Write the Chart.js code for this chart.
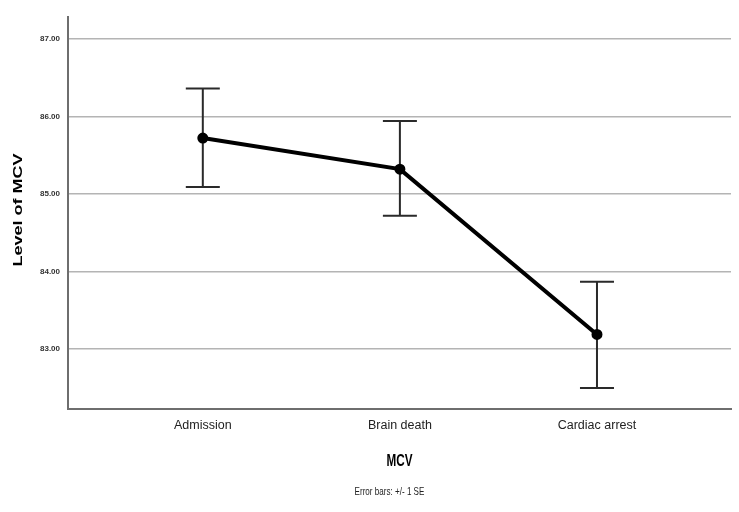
<!DOCTYPE html>
<html>
<head>
<meta charset="utf-8">
<script src="https://cdn.jsdelivr.net/npm/chart.js@4.4.0/dist/chart.umd.min.js"></script>
<style>
  html, body { margin: 0; padding: 0; background: #fff; }
  #grafico { display: block; }
</style>
</head>
<body>
<canvas id="grafico" width="739" height="512"></canvas>
<script>
// dados (media +/- 1 SE)
var categorias = ["Admission", "Brain death", "Cardiac arrest"];
var medias = [85.72, 85.32, 83.19];
var limiteSup = [86.36, 85.94, 83.87];
var limiteInf = [85.09, 84.72, 82.50];
var ticksY = [83, 84, 85, 86, 87];

var tituloY = "Level of MCV";
var tituloX = "MCV";
var rodape = "Error bars: +/- 1 SE";

var pontos = medias.map(function (m, i) {
	return { x: i, y: m };
});

// barras de erro desenhadas com as escalas do proprio grafico
var barrasErro = {
	id: "barrasErro",
	beforeDatasetsDraw: function (chart) {
		var ctx = chart.ctx;
		var sx = chart.scales.x;
		var sy = chart.scales.y;
		ctx.save();
		ctx.strokeStyle = "#2a2a2a";
		ctx.lineWidth = 2;
		for (var i = 0; i < medias.length; i++) {
			var px = sx.getPixelForValue(i);
			var yS = sy.getPixelForValue(limiteSup[i]);
			var yI = sy.getPixelForValue(limiteInf[i]);
			ctx.beginPath();
			ctx.moveTo(px, yS);
			ctx.lineTo(px, yI);
			ctx.moveTo(px - 17, yS);
			ctx.lineTo(px + 17, yS);
			ctx.moveTo(px - 17, yI);
			ctx.lineTo(px + 17, yI);
			ctx.stroke();
		}
		ctx.restore();
	},
	afterDraw: function (chart) {
		var ctx = chart.ctx;
		var area = chart.chartArea;
		ctx.save();
		ctx.fillStyle = "#000";
		ctx.textAlign = "center";
		ctx.textBaseline = "middle";

		// titulo do eixo y (esticado como no original)
		ctx.save();
		ctx.translate(19, (area.top + area.bottom) / 2 - 3);
		ctx.rotate(-Math.PI / 2);
		ctx.scale(1.5, 1);
		ctx.font = "bold 12px 'Liberation Sans', Arial, sans-serif";
		ctx.fillText(tituloY, 0, 0);
		ctx.restore();

		// titulo do eixo x
		ctx.save();
		ctx.translate((area.left + area.right) / 2, area.bottom + 53);
		ctx.scale(0.9, 1.2);
		ctx.font = "bold 13px 'Liberation Sans', Arial, sans-serif";
		ctx.fillText(tituloX, 0, 0);
		ctx.restore();

		// rodape
		ctx.save();
		ctx.translate((area.left + area.right) / 2 - 10, area.bottom + 83);
		ctx.scale(0.85, 1.2);
		ctx.font = "9.5px 'Liberation Sans', Arial, sans-serif";
		ctx.fillStyle = "#222";
		ctx.fillText(rodape, 0, 0);
		ctx.restore();

		ctx.restore();
	},
};

var config = {
	type: "line",
	data: {
		datasets: [
			{
				label: tituloX,
				data: pontos,
				borderColor: "#000",
				borderWidth: 4,
				pointRadius: 3.5,
				pointBackgroundColor: "#000",
				pointBorderColor: "#000",
				tension: 0,
			},
		],
	},
	options: {
		responsive: false,
		animation: false,
		layout: {
			padding: { top: 17, right: 7, left: 0, bottom: 0 },
		},
		scales: {
			x: {
				type: "linear",
				min: -0.684,
				max: 2.68,
				afterFit: function (scale) {
					scale.height = 103;
				},
				afterBuildTicks: function (scale) {
					scale.ticks = categorias.map(function (c, i) {
						return { value: i };
					});
				},
				grid: { display: false, drawTicks: false },
				border: { display: true, color: "#6e6e6e", width: 2 },
				ticks: {
					padding: 9,
					color: "#222",
					font: { size: 12.5, family: "'Liberation Sans', Arial, sans-serif" },
					callback: function (v) {
						return categorias[v];
					},
				},
			},
			y: {
				min: 82.23,
				max: 87.28,
				afterFit: function (scale) {
					scale.width = 68;
				},
				afterBuildTicks: function (scale) {
					scale.ticks = ticksY.map(function (v) {
						return { value: v };
					});
				},
				grid: { color: "#b4b4b4", lineWidth: 1.5, drawTicks: false },
				border: { display: true, color: "#6e6e6e", width: 2 },
				ticks: {
					padding: 8,
					color: "#333",
					font: { size: 8, weight: "bold", family: "'Liberation Sans', Arial, sans-serif" },
					callback: function (v) {
						return Number(v).toFixed(2);
					},
				},
			},
		},
		plugins: {
			legend: { display: false },
			tooltip: { enabled: false },
		},
	},
	plugins: [barrasErro],
};

var grafico = new Chart(document.getElementById("grafico"), config);
</script>
</body>
</html>
